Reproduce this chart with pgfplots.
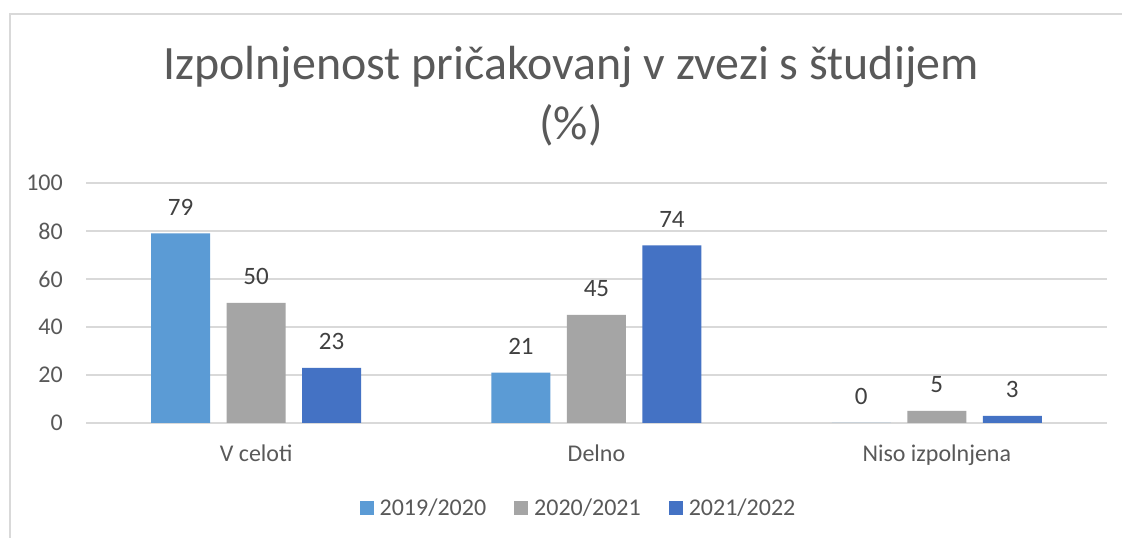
\documentclass[border=0pt]{standalone}
\usepackage{fontspec}
\setmainfont{Carlito}
\usepackage{pgfplots}
\pgfplotsset{compat=1.18}
\definecolor{cA}{HTML}{5B9BD5}
\definecolor{cB}{HTML}{A5A5A5}
\definecolor{cC}{HTML}{4472C4}
\definecolor{txt}{HTML}{595959}
\definecolor{lab}{HTML}{404040}
\definecolor{grd}{HTML}{D9D9D9}
\begin{document}
\begin{tikzpicture}
\path[use as bounding box] (0,0) rectangle (1122bp,538bp);
\fill[white] (0,0) rectangle (1122bp,538bp);
\draw[grd, line width=1.5bp] (10bp,-5bp) -- (10bp,524bp) -- (1130bp,524bp);
\node[anchor=base, text=txt, font=\fontsize{47.9bp}{56bp}\selectfont] at (571bp,458bp) {Izpolnjenost pričakovanj v zvezi s študijem};
\node[anchor=base, text=txt, font=\fontsize{47.9bp}{56bp}\selectfont] at (571bp,398bp) {(\%)};
\begin{axis}[
  at={(86bp,115bp)}, anchor=south west,
  scale only axis, width=1021bp, height=240bp,
  xmin=-0.5, xmax=2.5, ymin=0, ymax=100,
  ybar=16.5bp, bar width=59bp,
  axis line style={draw=none},
  major tick length=0pt,
  ytick={0,20,...,100},
  xtick={0,1,2},
  xticklabels={V celoti, Delno, Niso izpolnjena},
  ymajorgrids, grid style={grd, line width=1.3bp},
  /pgf/number format/assume math mode=true,
  tick label style={font=\fontsize{24bp}{28bp}\selectfont, text=txt, inner sep=0pt},
  yticklabel shift=23bp,
  xticklabel shift=22bp,
  nodes near coords,
  every node near coord/.append style={font=\fontsize{25bp}{29bp}\selectfont, text=lab, inner sep=0pt, yshift=18bp},
  legend columns=3,
  legend style={at={(0.4814,-0.354)}, anchor=center, draw=none, fill=none,
    font=\fontsize{24bp}{28bp}\selectfont, text=txt,
    /tikz/every odd column/.append style={column sep=6bp},
    /tikz/every even column/.append style={column sep=28bp},
    nodes={inner sep=0pt}},
  legend image code/.code={\fill[#1] (0bp,-7bp) rectangle (14bp,7bp);},
]
\addplot[fill=cA, draw=none] coordinates {(0,79) (1,21) (2,0)};
\addplot[fill=cB, draw=none] coordinates {(0,50) (1,45) (2,5)};
\addplot[fill=cC, draw=none] coordinates {(0,23) (1,74) (2,3)};
\legend{2019/2020, 2020/2021, 2021/2022}
\end{axis}
\end{tikzpicture}
\end{document}
